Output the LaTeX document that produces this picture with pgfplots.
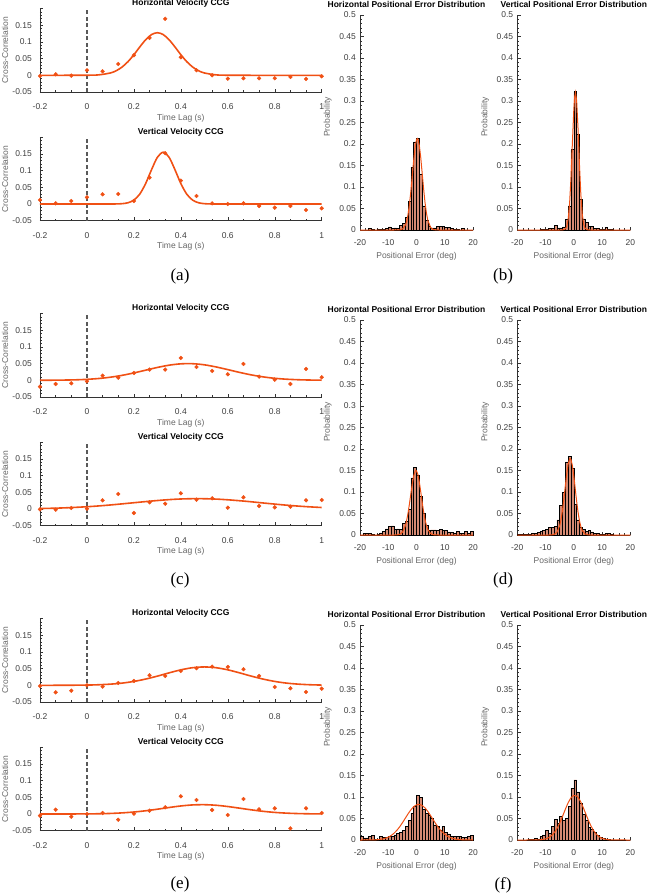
\documentclass[border=0pt]{standalone}
\usepackage{fontspec}
\setmainfont{Liberation Sans}
\newfontfamily\serif{Liberation Serif}
\usepackage{pgfplots}
\pgfplotsset{compat=1.18}

\definecolor{oc}{RGB}{240,80,20}
\definecolor{barc}{RGB}{214,138,115}
\newcommand\fs{\fontsize{8.5bp}{10bp}\selectfont}

\pgfplotsset{
  base/.style={scale only axis, clip=false,
    axis x line*=bottom, axis y line*=left,
    axis line style={-, draw=black!80, line width=0.6bp},
    tick align=inside, tick style={black!80, line width=0.5bp},
    major tick length=3.5bp, minor tick length=2bp,
    tick label style={font=\fs, text=black!75},
    label style={font=\fs, text=black!60}},
  ccg/.style={base, width=281.7bp, height=83.5bp,
    xmin=-0.2, xmax=1, ymin=-0.05, ymax=0.2,
    xtick={-0.2,0,0.2,0.4,0.6,0.8,1}, xticklabels={-0.2,0,0.2,0.4,0.6,0.8,1},
    minor x tick num=2,
    ytick={-0.05,0,0.05,0.1,0.15,0.2}, yticklabels={-0.05,0,0.05,0.1,0.15,{}},
    minor y tick num=4,
    xlabel={Time Lag (s)}, ylabel={Cross-Correlation},
    xticklabel style={anchor=center, yshift=-15bp},
    yticklabel style={anchor=east, inner sep=0pt, xshift=-8bp},
    xlabel style={at={(axis description cs:0.5,-0.311)}, anchor=center},
    ylabel style={at={(axis description cs:-0.124,0.5)}, anchor=center},
    every axis title/.style={font=\bfseries\fs, text=black, inner sep=0pt,
      at={(axis description cs:0.5,1)}, anchor=base, yshift=2.7bp}},
  hist/.style={base, width=113bp, height=215bp,
    xmin=-20, xmax=20, ymin=0, ymax=0.5,
    xtick={-20,-10,0,10,20}, xticklabels={-20,-10,0,10,20},
    minor x tick num=4,
    ytick={0,0.05,0.1,0.15,0.2,0.25,0.3,0.35,0.4,0.45,0.5},
    yticklabels={0,0.05,0.1,0.15,0.2,0.25,0.3,0.35,0.4,0.45,0.5},
    minor y tick num=4,
    xlabel={Positional Error (deg)}, ylabel={Probability},
    xticklabel style={anchor=center, yshift=-13bp},
    yticklabel style={anchor=east, inner sep=0pt, xshift=-4bp},
    xlabel style={at={(axis description cs:0.5,-0.121)}, anchor=center},
    ylabel style={at={(axis description cs:-0.285,0.526)}, anchor=center},
    every axis title/.style={font=\bfseries\fs, text=black, inner sep=0pt,
      at={(axis description cs:0.5,1)}, anchor=base, yshift=7.7bp}},
  pts/.style={only marks, mark=*, mark size=1.9bp, color=oc},
  fit/.style={color=oc, line width=1.6bp, smooth, no markers},
  zero/.style={black!65, line width=1.3bp, dash pattern=on 4bp off 2.5bp, no markers},
  bars/.style={ybar interval, fill=barc, draw=black, line width=0.6bp},
  hfit/.style={color=oc, line width=1bp, no markers},
}

\begin{document}
\begin{tikzpicture}
\path[use as bounding box] (0,0) rectangle (647bp,-895bp);

% ---------------- row (a)/(b)
\begin{axis}[ccg, at={(40bp,-92bp)}, anchor=south west, title={Horizontal Velocity CCG}]
\addplot[zero] coordinates {(0,-0.05) (0,0.2)};
\addplot[pts] coordinates {
(-0.2,-0.002) (-0.1333,0.003) (-0.0667,-0.001) (0,0.015) (0.0667,0.012) (0.1333,0.034)
(0.2,0.060) (0.2667,0.112) (0.3333,0.169) (0.4,0.054) (0.4667,0.015) (0.5333,0)
(0.6,-0.010) (0.6667,-0.009) (0.7333,-0.009) (0.8,-0.009) (0.8667,-0.005) (0.9333,-0.011) (1,-0.003)};
\addplot[fit] coordinates {
(-0.2,0) (-0.1,0) (0,0.0002) (0.05,0.0013) (0.1,0.007) (0.125,0.0138) (0.15,0.0249)
(0.175,0.041) (0.2,0.0617) (0.225,0.0848) (0.25,0.1064) (0.275,0.1219) (0.3,0.1275)
(0.325,0.1219) (0.35,0.1064) (0.375,0.0848) (0.4,0.0617) (0.425,0.041) (0.45,0.0249)
(0.475,0.0138) (0.5,0.007) (0.55,0.0013) (0.6,0.0002) (0.7,0) (0.8,0) (1,0)};
\end{axis}

\begin{axis}[ccg, at={(40bp,-220.7bp)}, anchor=south west, title={Vertical Velocity CCG}]
\addplot[zero] coordinates {(0,-0.05) (0,0.2)};
\addplot[pts] coordinates {
(-0.2,0.012) (-0.1333,0.002) (-0.0667,0.009) (0,0.020) (0.0667,0.029) (0.1333,0.030)
(0.2,0.009) (0.2667,0.079) (0.3333,0.152) (0.4,0.070) (0.4667,0.024) (0.5333,0.002)
(0.6,0) (0.6667,0.002) (0.7333,-0.006) (0.8,-0.011) (0.8667,-0.006) (0.9333,-0.018) (1,-0.013)};
\addplot[fit] coordinates {
(-0.2,0) (0,0) (0.1,0) (0.125,0.0002) (0.15,0.001) (0.175,0.0038) (0.2,0.0117)
(0.225,0.0297) (0.25,0.0612) (0.275,0.1025) (0.3,0.1398) (0.325,0.155) (0.35,0.1398)
(0.375,0.1025) (0.4,0.0612) (0.425,0.0297) (0.45,0.0117) (0.475,0.0038) (0.5,0.001)
(0.525,0.0002) (0.55,0) (0.7,0) (1,0)};
\end{axis}

\begin{axis}[hist, at={(360bp,-230bp)}, anchor=south west, title={Horizontal Positional Error Distribution}, title style={xshift=-10bp}]
\addplot[bars] coordinates {
(-20,0) (-19,0) (-18,0) (-17,0.004) (-16,0.002) (-15,0) (-14,0.001) (-13,0.002)
(-12,0.002) (-11,0.003) (-10,0.007) (-9,0.004) (-8,0.005) (-7,0.003) (-6,0.010) (-5,0.015)
(-4,0.030) (-3,0.067) (-2,0.146) (-1,0.205) (0,0.213) (1,0.130) (2,0.056) (3,0.023)
(4,0.008) (5,0.005) (6,0.005) (7,0.009) (8,0.009) (9,0.008) (10,0.006) (11,0.006)
(12,0.004) (13,0.002) (14,0.001) (15,0) (16,0.004) (17,0) (18,0) (19,0) (20,0)};
\addplot[hfit] coordinates {
(-20,0) (-8,0) (-7,0.0001) (-6,0.0003) (-5,0.0022) (-4,0.0104) (-3.5,0.0201) (-3,0.036)
(-2.5,0.0592) (-2,0.0898) (-1.5,0.1255) (-1,0.1616) (-0.5,0.1919) (0,0.2099) (0.3,0.213)
(0.5,0.2116) (1,0.1966) (1.5,0.1684) (2,0.1329) (2.5,0.0967) (3,0.0648) (3.5,0.04)
(4,0.0228) (5,0.0058) (6,0.0011) (7,0.0001) (8,0) (20,0)};
\end{axis}

\begin{axis}[hist, at={(517.3bp,-230bp)}, anchor=south west, title={Vertical Positional Error Distribution}]
\addplot[bars] coordinates {
(-20,0) (-19,0) (-18,0) (-17,0) (-16,0) (-15,0) (-14,0) (-13,0)
(-12,0.002) (-11,0.001) (-10,0.002) (-9,0.003) (-8,0.003) (-7,0.010) (-6,0.005) (-5,0.005)
(-4,0.007) (-3,0.024) (-2,0.056) (-1,0.187) (0,0.322) (1,0.222) (2,0.071) (3,0.026)
(4,0.017) (5,0.009) (6,0.009) (7,0.003) (8,0.003) (9,0.002) (10,0.002) (11,0.006)
(12,0.002) (13,0.001) (14,0) (15,0) (16,0) (17,0) (18,0) (19,0) (20,0)};
\addplot[hfit] coordinates {
(-20,0) (-5,0) (-4,0.0001) (-3,0.0024) (-2.5,0.0085) (-2,0.0248) (-1.5,0.0604) (-1,0.1216)
(-0.5,0.2025) (0,0.2793) (0.3,0.3093) (0.6,0.32) (1,0.3012) (1.5,0.2356) (2,0.1525)
(2.5,0.0817) (3,0.0363) (3.5,0.0133) (4,0.004) (5,0.0002) (6,0) (20,0)};
\end{axis}

\node[font=\serif\fontsize{17bp}{20bp}\selectfont] at (180bp,-276.5bp) {(a)};
\node[font=\serif\fontsize{17bp}{20bp}\selectfont] at (503bp,-276.5bp) {(b)};

% ---------------- row (c)/(d)
\begin{axis}[ccg, at={(40bp,-397bp)}, anchor=south west, title={Horizontal Velocity CCG}]
\addplot[zero] coordinates {(0,-0.05) (0,0.2)};
\addplot[pts] coordinates {
(-0.2,-0.019) (-0.1333,-0.011) (-0.0667,-0.009) (0,-0.003) (0.0667,0.014) (0.1333,0.008)
(0.2,0.022) (0.2667,0.032) (0.3333,0.032) (0.4,0.067) (0.4667,0.040) (0.5333,0.028)
(0.6,0.018) (0.6667,0.049) (0.7333,0.011) (0.8,0.002) (0.8667,-0.011) (0.9333,0.034) (1,0.009)};
\addplot[fit] coordinates {
(-0.2,0.0001) (-0.15,0.0003) (-0.1,0.0007) (-0.05,0.0014) (0,0.0029) (0.05,0.0054)
(0.1,0.0093) (0.15,0.0149) (0.2,0.0221) (0.25,0.0303) (0.3,0.0385) (0.35,0.0453)
(0.4,0.0493) (0.45,0.0497) (0.5,0.0464) (0.55,0.04) (0.6,0.032) (0.65,0.0237)
(0.7,0.0162) (0.75,0.0103) (0.8,0.006) (0.85,0.0033) (0.9,0.0017) (0.95,0.0008) (1,0.0003)};
\end{axis}

\begin{axis}[ccg, at={(40bp,-525.7bp)}, anchor=south west, title={Vertical Velocity CCG}]
\addplot[zero] coordinates {(0,-0.05) (0,0.2)};
\addplot[pts] coordinates {
(-0.2,-0.001) (-0.1333,-0.002) (-0.0667,0.003) (0,0.001) (0.0667,0.026) (0.1333,0.045)
(0.2,-0.012) (0.2667,0.020) (0.3333,0.016) (0.4,0.047) (0.4667,0.028) (0.5333,0.032)
(0.6,0.004) (0.6667,0.035) (0.7333,0.009) (0.8,0.005) (0.8667,0.007) (0.9333,0.026) (1,0.027)};
\addplot[fit] coordinates {
(-0.2,0.0014) (-0.15,0.0022) (-0.1,0.0033) (-0.05,0.0049) (0,0.0068) (0.05,0.0092)
(0.1,0.0121) (0.15,0.0154) (0.2,0.0188) (0.25,0.0222) (0.3,0.0254) (0.35,0.0281)
(0.4,0.03) (0.45,0.0309) (0.5,0.0308) (0.55,0.0297) (0.6,0.0276) (0.65,0.0248)
(0.7,0.0216) (0.75,0.0181) (0.8,0.0147) (0.85,0.0115) (0.9,0.0087) (0.95,0.0064) (1,0.0045)};
\end{axis}

\begin{axis}[hist, at={(360bp,-535bp)}, anchor=south west, title={Horizontal Positional Error Distribution}, title style={xshift=-10bp}]
\addplot[bars] coordinates {
(-20,0) (-19,0.003) (-18,0.003) (-17,0.003) (-16,0.001) (-15,0) (-14,0.002) (-13,0.005)
(-12,0.009) (-11,0.014) (-10,0.020) (-9,0.021) (-8,0.013) (-7,0.014) (-6,0.013) (-5,0.027)
(-4,0.031) (-3,0.060) (-2,0.133) (-1,0.157) (0,0.140) (1,0.090) (2,0.050) (3,0.022)
(4,0.010) (5,0.012) (6,0.012) (7,0.011) (8,0.013) (9,0.011) (10,0.011) (11,0.007)
(12,0.006) (13,0.005) (14,0.008) (15,0.004) (16,0.004) (17,0.009) (18,0.003) (19,0.009) (20,0)};
\addplot[hfit] coordinates {
(-20,0) (-8,0) (-7,0.0002) (-6,0.0014) (-5,0.0062) (-4,0.0203) (-3.5,0.0332) (-3,0.0506)
(-2.5,0.0721) (-2,0.0958) (-1.5,0.1187) (-1,0.1373) (-0.5,0.1481) (-0.2,0.15) (0,0.1492)
(0.5,0.1402) (1,0.1229) (1.5,0.1005) (2,0.0767) (2.5,0.0546) (3,0.0363) (3.5,0.0225)
(4,0.013) (5,0.0035) (6,0.0007) (7,0.0001) (8,0) (20,0)};
\end{axis}

\begin{axis}[hist, at={(517.3bp,-535bp)}, anchor=south west, title={Vertical Positional Error Distribution}]
\addplot[bars] coordinates {
(-20,0.001) (-19,0.001) (-18,0.001) (-17,0.002) (-16,0.002) (-15,0.004) (-14,0.004) (-13,0.006)
(-12,0.008) (-11,0.010) (-10,0.013) (-9,0.018) (-8,0.018) (-7,0.020) (-6,0.035) (-5,0.068)
(-4,0.100) (-3,0.170) (-2,0.183) (-1,0.155) (0,0.072) (1,0.035) (2,0.018) (3,0.013)
(4,0.008) (5,0.010) (6,0.007) (7,0.004) (8,0.003) (9,0.002) (10,0.002) (11,0.004)
(12,0.003) (13,0.001) (14,0) (15,0) (16,0) (17,0) (18,0) (19,0) (20,0)};
\addplot[hfit] coordinates {
(-20,0) (-9,0) (-8,0.0002) (-7,0.0012) (-6,0.0059) (-5,0.0215) (-4.5,0.0366) (-4,0.0578)
(-3.5,0.0843) (-3,0.114) (-2.5,0.1425) (-2,0.165) (-1.5,0.1769) (-1.3,0.178) (-1,0.1755)
(-0.5,0.1613) (0,0.1371) (0.5,0.108) (1,0.0787) (1.5,0.0531) (2,0.0331) (2.5,0.0192)
(3,0.0103) (4,0.0023) (5,0.0004) (6,0) (20,0)};
\end{axis}

\node[font=\serif\fontsize{17bp}{20bp}\selectfont] at (180bp,-580.5bp) {(c)};
\node[font=\serif\fontsize{17bp}{20bp}\selectfont] at (503bp,-580.5bp) {(d)};

% ---------------- row (e)/(f)
\begin{axis}[ccg, at={(40bp,-702bp)}, anchor=south west, title={Horizontal Velocity CCG}]
\addplot[zero] coordinates {(0,-0.05) (0,0.2)};
\addplot[pts] coordinates {
(-0.2,-0.002) (-0.1333,-0.021) (-0.0667,-0.016) (0,0) (0.0667,-0.004) (0.1333,0.007)
(0.2,0.013) (0.2667,0.030) (0.3333,0.028) (0.4,0.043) (0.4667,0.051) (0.5333,0.056)
(0.6,0.055) (0.6667,0.048) (0.7333,0.028) (0.8,-0.005) (0.8667,-0.009) (0.9333,-0.020) (1,-0.010)};
\addplot[fit] coordinates {
(-0.2,0) (-0.1,0.0001) (0,0.0007) (0.05,0.0017) (0.1,0.0035) (0.15,0.0066) (0.2,0.0116)
(0.25,0.0187) (0.3,0.0275) (0.35,0.0373) (0.4,0.0463) (0.45,0.0527) (0.5,0.055)
(0.55,0.0527) (0.6,0.0463) (0.65,0.0373) (0.7,0.0275) (0.75,0.0187) (0.8,0.0116)
(0.85,0.0066) (0.9,0.0035) (0.95,0.0017) (1,0.0007)};
\end{axis}

\begin{axis}[ccg, at={(40bp,-830.7bp)}, anchor=south west, title={Vertical Velocity CCG}]
\addplot[zero] coordinates {(0,-0.05) (0,0.2)};
\addplot[pts] coordinates {
(-0.2,-0.005) (-0.1333,0.013) (-0.0667,-0.008) (0,0) (0.0667,0.003) (0.1333,-0.017)
(0.2,0.001) (0.2667,0.010) (0.3333,0.020) (0.4,0.053) (0.4667,0.042) (0.5333,0.012)
(0.6,-0.003) (0.6667,0.045) (0.7333,0.014) (0.8,0.017) (0.8667,-0.043) (0.9333,0.017) (1,0.003)};
\addplot[fit] coordinates {
(-0.2,0) (-0.1,0.0001) (0,0.0003) (0.05,0.0008) (0.1,0.0017) (0.15,0.0034) (0.2,0.006)
(0.25,0.0097) (0.3,0.0144) (0.35,0.0195) (0.4,0.0241) (0.45,0.0272) (0.5,0.0279)
(0.55,0.0262) (0.6,0.0224) (0.65,0.0175) (0.7,0.0125) (0.75,0.0081) (0.8,0.0048)
(0.85,0.0026) (0.9,0.0013) (0.95,0.0006) (1,0.0002)};
\end{axis}

\begin{axis}[hist, at={(360bp,-840bp)}, anchor=south west, title={Horizontal Positional Error Distribution}, title style={xshift=-10bp}]
\addplot[bars] coordinates {
(-20,0.008) (-19,0.005) (-18,0.005) (-17,0.008) (-16,0.011) (-15,0.002) (-14,0.002) (-13,0.008)
(-12,0.006) (-11,0.006) (-10,0.009) (-9,0.009) (-8,0.012) (-7,0.015) (-6,0.017) (-5,0.023)
(-4,0.031) (-3,0.045) (-2,0.062) (-1,0.078) (0,0.104) (1,0.100) (2,0.071) (3,0.062)
(4,0.058) (5,0.050) (6,0.035) (7,0.032) (8,0.023) (9,0.031) (10,0.017) (11,0.014)
(12,0.009) (13,0.009) (14,0.008) (15,0.009) (16,0.006) (17,0.006) (18,0.008) (19,0.011) (20,0)};
\addplot[hfit, smooth] coordinates {
(-20,0) (-16,0.0002) (-14,0.0007) (-12,0.0024) (-10,0.0066) (-9,0.0103) (-8,0.0155)
(-7,0.0222) (-6,0.0304) (-5,0.04) (-4,0.0503) (-3,0.0607) (-2,0.07) (-1,0.0774) (0,0.0819)
(0.8,0.083) (2,0.0804) (3,0.0747) (4,0.0665) (5,0.0566) (6,0.0462) (7,0.036) (8,0.027)
(9,0.0193) (10,0.0132) (11,0.0087) (12,0.0055) (14,0.0019) (16,0.0006) (20,0)};
\end{axis}

\begin{axis}[hist, at={(517.3bp,-840bp)}, anchor=south west, title={Vertical Positional Error Distribution}]
\addplot[bars] coordinates {
(-20,0) (-19,0) (-18,0) (-17,0) (-16,0.001) (-15,0.002) (-14,0.004) (-13,0.002)
(-12,0.008) (-11,0.012) (-10,0.023) (-9,0.016) (-8,0.032) (-7,0.048) (-6,0.038) (-5,0.054)
(-4,0.046) (-3,0.050) (-2,0.078) (-1,0.120) (0,0.140) (1,0.112) (2,0.085) (3,0.060)
(4,0.046) (5,0.030) (6,0.025) (7,0.018) (8,0.010) (9,0.006) (10,0.004) (11,0.002)
(12,0.0015) (13,0) (14,0) (15,0) (16,0) (17,0) (18,0) (19,0) (20,0)};
\addplot[hfit, smooth] coordinates {
(-20,0) (-14,0.0001) (-12,0.0006) (-10,0.0026) (-9,0.0052) (-8,0.0096) (-7,0.0164)
(-6,0.0263) (-5,0.0393) (-4,0.0548) (-3,0.0713) (-2,0.0866) (-1,0.0981) (0,0.1037)
(1,0.1023) (2,0.0941) (3,0.0808) (4,0.0647) (5,0.0484) (6,0.0338) (7,0.022) (8,0.0133)
(9,0.0076) (10,0.004) (12,0.0009) (14,0.0002) (20,0)};
\end{axis}

\node[font=\serif\fontsize{17bp}{20bp}\selectfont] at (180bp,-884bp) {(e)};
\node[font=\serif\fontsize{17bp}{20bp}\selectfont] at (503bp,-885bp) {(f)};
\end{tikzpicture}
\end{document}
